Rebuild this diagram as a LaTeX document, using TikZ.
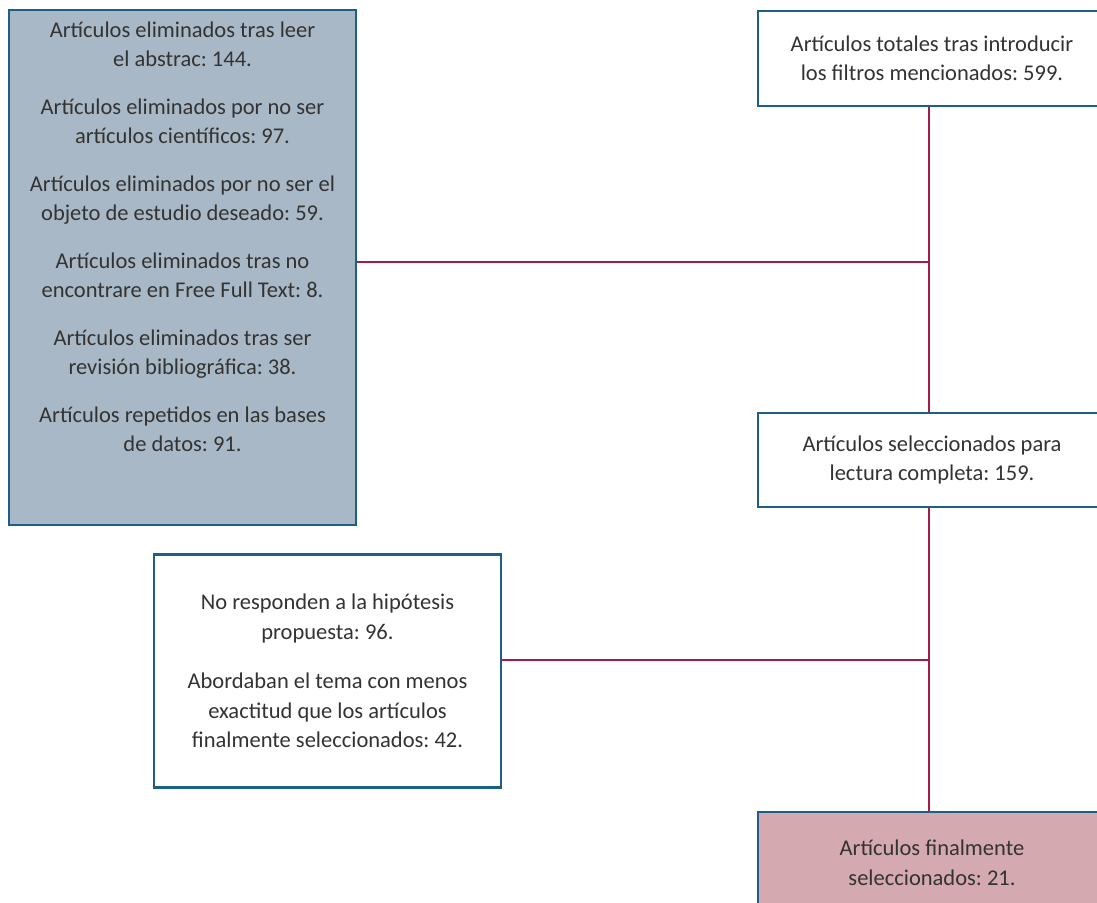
\documentclass[tikz,border=0pt]{standalone}
\usepackage{fontspec}
\setmainfont{Carlito}
\frenchspacing
\definecolor{boxborder}{HTML}{1D5F86}
\definecolor{leftfill}{HTML}{A9B8C6}
\definecolor{finalfill}{HTML}{D4A9AF}
\definecolor{linkcol}{HTML}{A61A4B}
\definecolor{txtcol}{HTML}{333333}
\tikzset{
  box/.style={draw=boxborder, line width=2.6pt, rectangle, inner sep=0pt},
  txt/.style={text=txtcol, align=center, inner sep=0pt, font=\fontsize{22.5}{29.5}\selectfont\frenchspacing},
  link/.style={draw=linkcol, line width=2.4pt}
}
\begin{document}
\begin{tikzpicture}[x=1pt,y=-1pt]
\clip (0,0) rectangle (1097,902);
\useasboundingbox (0,0) rectangle (1097,902);
% left box
\node[box, fill=leftfill, minimum width=347pt, minimum height=515pt] (L) at (182.5,267.5) {};
\node[txt, anchor=north] (Lt) at (182.5,21.5) {Artículos eliminados tras leer\\ el abstrac: 144.\\[18pt]
Artículos eliminados por no ser\\ artículos científicos: 97.\\[18pt]
Artículos eliminados por no ser el\\ objeto de estudio deseado: 59.\\[18pt]
Artículos eliminados tras no\\ encontrare en Free Full Text: 8.\\[18pt]
Artículos eliminados tras ser\\ revisión bibliográfica: 38.\\[18pt]
Artículos repetidos en las bases\\ de datos: 91.};
% right boxes
\node[box, fill=white, minimum width=348pt, minimum height=95pt, txt] (T) at (932,58.5) {Artículos totales tras introducir\\ los filtros mencionados: 599.};
\node[box, fill=white, minimum width=348pt, minimum height=94pt, txt] (M) at (932,460) {Artículos seleccionados para\\ lectura completa: 159.};
\node[box, fill=finalfill, minimum width=348pt, minimum height=130pt] (F) at (932,877) {};
\node[txt] (Ft) at (932,863) {Artículos finalmente\\ seleccionados: 21.};
% middle-left box
\node[box, fill=white, minimum width=347pt, minimum height=233pt, txt] (N) at (327.5,671) {No responden a la hipótesis\\ propuesta: 96.\\[20pt]
Abordaban el tema con menos\\ exactitud que los artículos\\ finalmente seleccionados: 42.};
% connectors
\coordinate (j1) at (929,262);
\coordinate (j2) at (929,660);
\draw[link] (T.south -| j1) -- (M.north -| j1);
\draw[link] (M.south -| j1) -- (F.north -| j1);
\draw[link] (L.east |- j1) -- (j1);
\draw[link] (N.east |- j2) -- (j2);
\end{tikzpicture}
\end{document}
